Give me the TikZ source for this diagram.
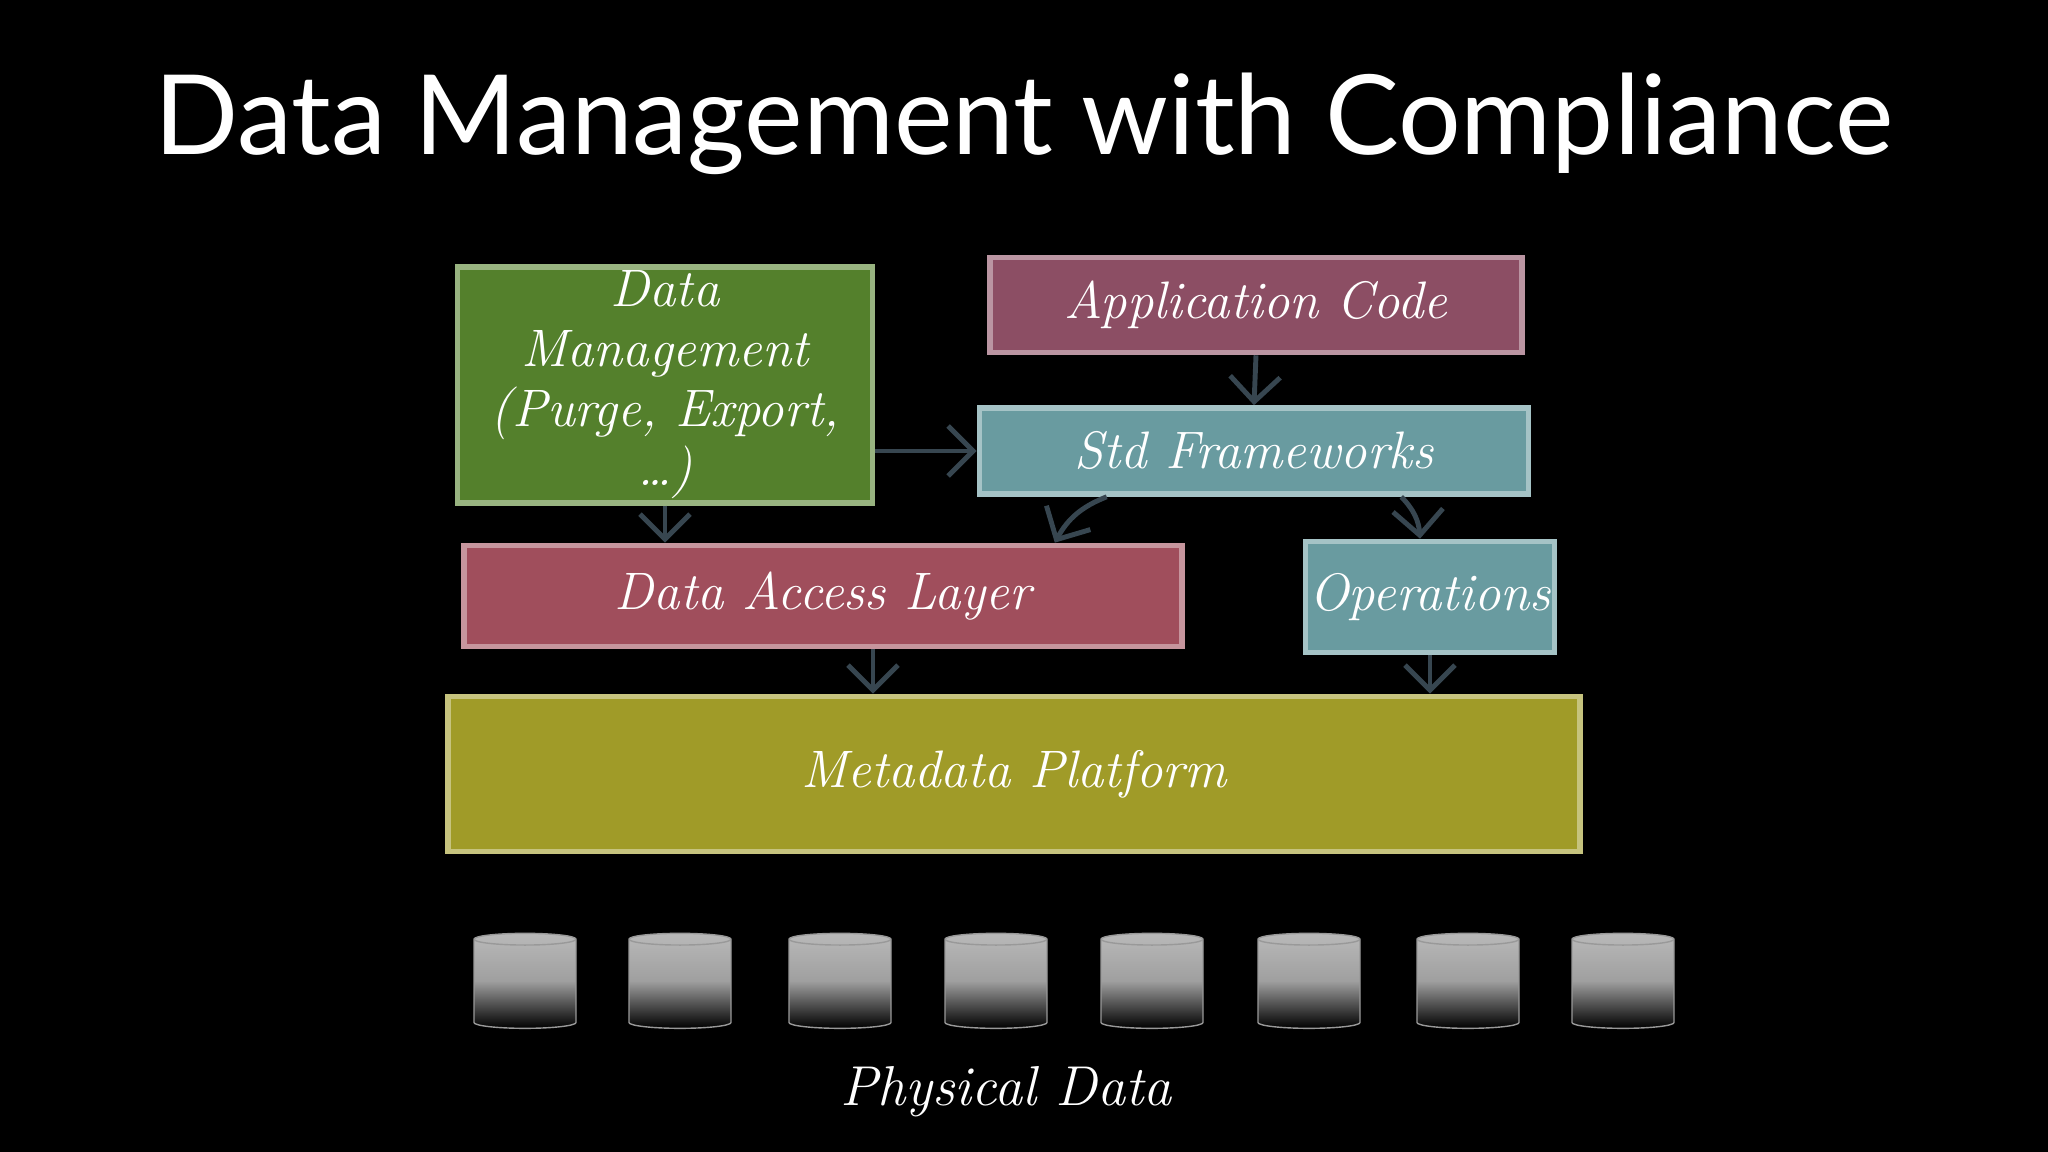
\documentclass[tikz,border=0pt]{standalone}
\usepackage{fontspec}
\setmainfont{Lato}
\newfontfamily\handfont{Latin Modern Roman}
\usetikzlibrary{shapes.geometric,arrows.meta}
\definecolor{dmgreen}{RGB}{84,128,44}
\definecolor{appmauve}{RGB}{140,78,100}
\definecolor{stdteal}{RGB}{105,155,160}
\definecolor{dalrose}{RGB}{160,78,92}
\definecolor{mpolive}{RGB}{160,155,40}
\definecolor{arrowgrey}{RGB}{55,70,80}
\newcommand{\layernode}[6]{\node[layer,fill=#1,draw=#1!60!white,minimum width=#2,minimum height=#3] (#4) at #5 {#6};}
\tikzset{
  layer/.style={rectangle,line width=1.6pt,text=white,font=\handfont\itshape\fontsize{15}{17}\selectfont,align=center,inner sep=1pt},
  link/.style={-{Straight Barb[length=2.5mm]},arrowgrey,line width=1.4pt},
  disk/.style={cylinder,shape border rotate=90,aspect=0.5,minimum width=1.02cm,minimum height=0.95cm,draw=gray!80,top color=gray!55,bottom color=black,middle color=gray!75}
}
\begin{document}
\begin{tikzpicture}
  \fill[black] (0,0) rectangle (20.48,11.52);
  \useasboundingbox (0,0) rectangle (20.48,11.52);

  \node[text=white,font=\fontsize{31.5}{36}\selectfont] (title) at (10.24,10.28) {Data Management with Compliance};

  \layernode{dmgreen}{4.15cm}{2.27cm}{dm}{(6.65,7.67)}{Data\\Management\\(Purge, Export,\\\dots)}
  \layernode{appmauve}{5.32cm}{0.95cm}{app}{(12.56,8.47)}{Application Code}
  \layernode{stdteal}{5.49cm}{0.86cm}{std}{(12.54,7.01)}{Std Frameworks}
  \layernode{dalrose}{7.18cm}{1.01cm}{dal}{(8.23,5.56)}{Data Access Layer}
  \layernode{stdteal}{2.35cm}{1.11cm}{ops}{(14.30,5.55)}{Operations}
  \layernode{mpolive}{11.32cm}{1.55cm}{mp}{(10.14,3.78)}{Metadata Platform}

  % arrows between layers
  \draw[link] (app.south) -- (std.north);
  \draw[link] (dm.south) -- (dm.south |- dal.north);
  \draw[link] (dm.east |- std.west) -- (std.west);
  \draw[link] ([xshift=1.3cm]std.south west) to[bend right=20] ([xshift=-1.3cm]dal.north east);
  \draw[link] ([xshift=-1.3cm]std.south east) to[bend left=20] ([xshift=-0.1cm]ops.north);
  \draw[link] ([xshift=0.5cm]dal.south) -- ([xshift=0.5cm]dal.south |- mp.north);
  \draw[link] (ops.south) -- (ops.south |- mp.north);

  % physical disks
  \foreach \x [count=\i] in {5.25,6.80,8.40,9.96,11.52,13.09,14.68,16.23}
    \node[disk] (disk\i) at (\x,1.66) {};

  \node[text=white,font=\handfont\itshape\fontsize{16}{17}\selectfont] (phys) at (10.06,0.60) {Physical Data};
\end{tikzpicture}
\end{document}
